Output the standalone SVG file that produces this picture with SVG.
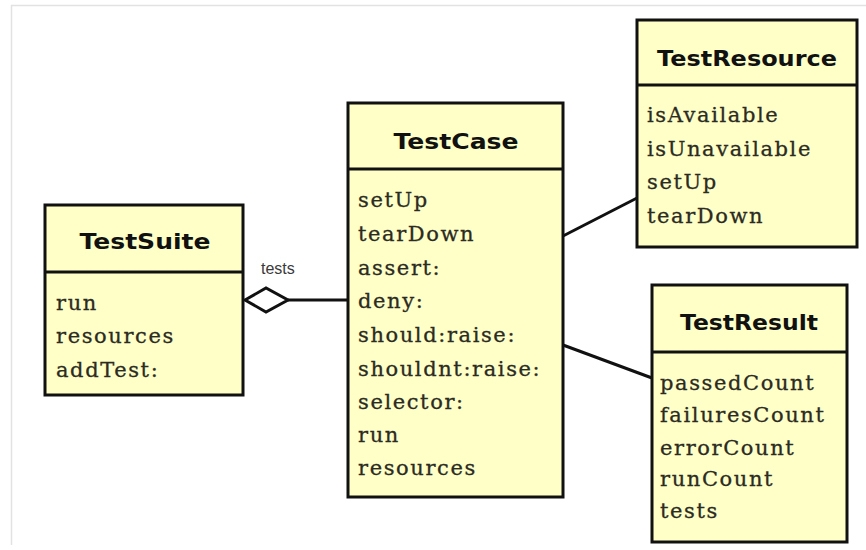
<svg xmlns="http://www.w3.org/2000/svg" width="866" height="550" viewBox="0 0 866 550">
  <style>
    .box { fill: #ffffc8; stroke: #111; stroke-width: 3; }
    .sep { stroke: #111; stroke-width: 3; }
    .title { font-family: "DejaVu Sans", "Liberation Sans", sans-serif; font-weight: bold; font-size: 22px; fill: #111; text-anchor: middle; }
    .op { font-family: "DejaVu Serif", "Liberation Serif", serif; font-size: 21px; letter-spacing: 1.6px; fill: #2b2b22; stroke: #2b2b22; stroke-width: 0.3; }
    .edge { stroke: #111; stroke-width: 3; fill: none; }
    .lbl { font-family: "Liberation Sans", "DejaVu Sans", sans-serif; font-size: 16px; fill: #3a3a3a; }
  </style>

  <rect width="866" height="550" fill="#ffffff"/>
  <!-- faint frame -->
  <path d="M11 5.5 H866 M11.5 5 V545" stroke="#e2e2e2" stroke-width="1.5" fill="none"/>

  <g id="connectors">
    <!-- aggregation TestSuite <>— TestCase -->
    <line class="edge" x1="288" y1="300" x2="348" y2="300"/>
    <polygon points="245,300 266,288 288,300 266,312" fill="#ffffff" stroke="#111" stroke-width="3" stroke-linejoin="miter"/>
    <text class="lbl" x="261" y="274">tests</text>
    <!-- TestCase — TestResource -->
    <line class="edge" x1="563" y1="236" x2="637" y2="198"/>
    <!-- TestCase — TestResult -->
    <line class="edge" x1="563" y1="345" x2="652" y2="378"/>
  </g>

  <g id="TestSuite">
    <rect class="box" x="45" y="205" width="198" height="190"/>
    <line class="sep" x1="45" y1="272" x2="243" y2="272"/>
    <text class="title" x="145" y="249" textLength="131" lengthAdjust="spacingAndGlyphs">TestSuite</text>
    <text class="op" x="56" y="310">run</text>
    <text class="op" x="56" y="343">resources</text>
    <text class="op" x="56" y="377">addTest:</text>
  </g>

  <g id="TestCase">
    <rect class="box" x="348" y="103" width="215" height="394"/>
    <line class="sep" x1="348" y1="169" x2="563" y2="169"/>
    <text class="title" x="456" y="149" textLength="125" lengthAdjust="spacingAndGlyphs">TestCase</text>
    <text class="op" x="358" y="207">setUp</text>
    <text class="op" x="358" y="241">tearDown</text>
    <text class="op" x="358" y="275">assert:</text>
    <text class="op" x="358" y="308">deny:</text>
    <text class="op" x="358" y="342">should:raise:</text>
    <text class="op" x="358" y="376">shouldnt:raise:</text>
    <text class="op" x="358" y="409">selector:</text>
    <text class="op" x="358" y="442">run</text>
    <text class="op" x="358" y="475">resources</text>
  </g>

  <g id="TestResource">
    <rect class="box" x="637" y="20" width="220" height="227"/>
    <line class="sep" x1="637" y1="85" x2="857" y2="85"/>
    <text class="title" x="747" y="66" textLength="180" lengthAdjust="spacingAndGlyphs">TestResource</text>
    <text class="op" x="647" y="122">isAvailable</text>
    <text class="op" x="647" y="156">isUnavailable</text>
    <text class="op" x="647" y="189">setUp</text>
    <text class="op" x="647" y="223">tearDown</text>
  </g>

  <g id="TestResult">
    <rect class="box" x="652" y="285" width="195" height="257"/>
    <line class="sep" x1="652" y1="352" x2="847" y2="352"/>
    <text class="title" x="749" y="330" textLength="138" lengthAdjust="spacingAndGlyphs">TestResult</text>
    <text class="op" x="660" y="390">passedCount</text>
    <text class="op" x="660" y="422">failuresCount</text>
    <text class="op" x="660" y="455">errorCount</text>
    <text class="op" x="660" y="486">runCount</text>
    <text class="op" x="660" y="518">tests</text>
  </g>
</svg>
